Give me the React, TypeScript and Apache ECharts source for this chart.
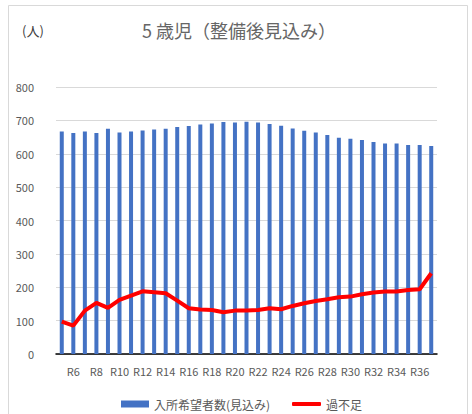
import React, { useEffect, useRef } from "react";
import * as echarts from "echarts";

const categories = [
  "R5", "R6", "R7", "R8", "R9", "R10", "R11", "R12", "R13", "R14", "R15",
  "R16", "R17", "R18", "R19", "R20", "R21", "R22", "R23", "R24", "R25", "R26",
  "R27", "R28", "R29", "R30", "R31", "R32", "R33", "R34", "R35", "R36", "R37",
];

const applicants = [
  667, 662, 667, 662, 675, 664, 667, 670, 673, 675, 680,
  683, 688, 691, 695, 694, 696, 694, 689, 684, 676, 669,
  664, 656, 648, 645, 641, 635, 631, 631, 626, 626, 623,
];

const shortage = [
  97, 85, 130, 153, 138, 162, 175, 188, 185, 182, 160,
  137, 133, 132, 125, 130, 130, 132, 137, 134, 144, 152,
  159, 164, 170, 172, 179, 184, 187, 187, 192, 194, 242,
];

const yTicks = { min: 0, max: 800, interval: 100 };

const FONT = '"Noto Sans CJK JP", "Noto Sans", sans-serif';
const TEXT = "#595959";

export default function App() {
  const ref = useRef<HTMLDivElement>(null);

  useEffect(() => {
    document.body.style.margin = "0";
    if (!ref.current) return;
    const chart = echarts.init(ref.current, undefined, { renderer: "svg" });
    chart.setOption({
      animation: false,
      textStyle: { fontFamily: FONT, color: TEXT },
      title: {
        text: "5 歳児（整備後見込み）",
        left: 234,
        textAlign: "center",
        top: 16,
        textStyle: { fontFamily: FONT, fontSize: 18, fontWeight: "normal", color: "#666666" },
      },
      graphic: [
        {
          type: "rect",
          shape: { x: 8.5, y: 5.5, width: 459, height: 420 },
          style: { fill: "none", stroke: "#D9D9D9", lineWidth: 1 },
          silent: true,
        },
        {
          type: "text",
          left: 22,
          top: 24,
          style: { text: "(人)", fontFamily: FONT, fontSize: 13, fill: "#404040" },
        },
      ],
      legend: [
        {
          left: 116,
          top: 393,
          itemWidth: 28,
          itemHeight: 7,
          itemGap: 3,
          textStyle: { fontFamily: FONT, fontSize: 12, color: TEXT },
          data: [{ name: "入所希望者数(見込み)", icon: "rect" }],
        },
        {
          left: 287,
          top: 393,
          itemWidth: 29,
          itemHeight: 4,
          textStyle: { fontFamily: FONT, fontSize: 12, color: TEXT },
          data: [{ name: "過不足", icon: "roundRect" }],
        },
      ],
      grid: { left: 56, right: 35, top: 87, bottom: 60 },
      xAxis: {
        type: "category",
        data: categories,
        axisTick: { show: false },
        axisLine: { lineStyle: { color: "#000000", width: 1.5 } },
        axisLabel: {
          interval: 0,
          formatter: (v: string, i: number) => (i % 2 === 1 ? v : ""),
          fontFamily: FONT,
          fontSize: 11,
          color: TEXT,
          margin: 11,
        },
      },
      yAxis: {
        type: "value",
        min: yTicks.min,
        max: yTicks.max,
        interval: yTicks.interval,
        axisLine: { show: false },
        axisTick: { show: false },
        splitLine: { lineStyle: { color: "#D9D9D9", width: 1 } },
        axisLabel: { fontFamily: FONT, fontSize: 11, color: TEXT, margin: 22 },
      },
      series: [
        {
          name: "入所希望者数(見込み)",
          type: "bar",
          data: applicants,
          barWidth: 4,
          itemStyle: { color: "#4472C4" },
        },
        {
          name: "過不足",
          type: "line",
          data: shortage,
          symbol: "none",
          lineStyle: { color: "#FF0000", width: 4 },
          itemStyle: { color: "#FF0000" },
        },
      ],
    });
    return () => chart.dispose();
  }, []);

  return <div ref={ref} style={{ width: 472, height: 414 }} />;
}
